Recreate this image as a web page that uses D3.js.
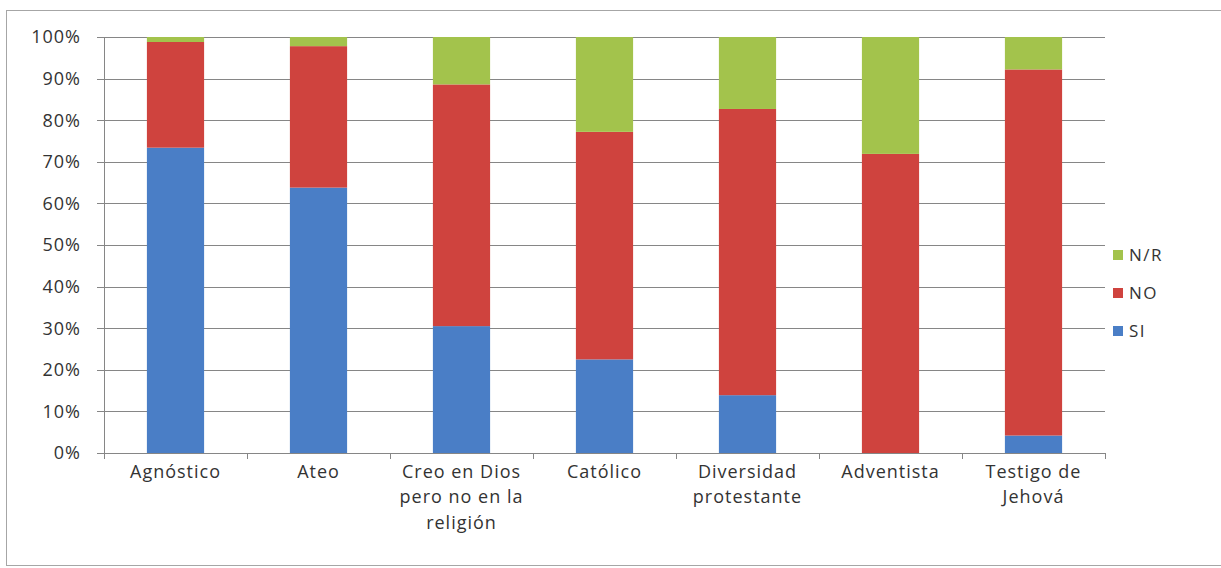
<!DOCTYPE html>
<html>
<head>
<meta charset="utf-8">
<script src="https://cdn.jsdelivr.net/npm/d3@7"></script>
<style>
  body { margin: 0; background: #fff; }
  svg text { font-family: "Open Sans", sans-serif; fill: #333; }
</style>
</head>
<body>
<svg id="chart"></svg>
<script>
// categories and values (percent)
const categories = [
  ["Agnóstico"],
  ["Ateo"],
  ["Creo en Dios", "pero no en la", "religión"],
  ["Católico"],
  ["Diversidad", "protestante"],
  ["Adventista"],
  ["Testigo de", "Jehová"]
];
const si = [73.4, 63.8, 30.5, 22.5, 13.9, 0, 4.2];
const no = [25.4, 34.0, 58.1, 54.7, 68.8, 71.9, 88.0];
const nr = [1.2, 2.2, 11.4, 22.8, 17.3, 28.1, 7.8];
const seriesNames = ["SI", "NO", "N/R"];
const yTicks = [0, 10, 20, 30, 40, 50, 60, 70, 80, 90, 100];

var svgWidth = 1221, svgHeight = 568;
var margin = {top: 37, right: 116, bottom: 115, left: 104};
var width = svgWidth - margin.left - margin.right;
var height = svgHeight - margin.top - margin.bottom;

var colors = {"SI": "#4a7ec6", "NO": "#cf433e", "N/R": "#a3c34c"};

var svg = d3.select("#chart")
  .attr("width", svgWidth)
  .attr("height", svgHeight);

// outer frame
svg.append("rect")
  .attr("x", 6.5).attr("y", 10.5)
  .attr("width", 1230).attr("height", 555)
  .attr("fill", "none")
  .attr("stroke", "#a6a6a6");

var g = svg.append("g")
  .attr("transform", "translate(" + margin.left + "," + margin.top + ")");

var keys = categories.map(function (c) { return c.join(" "); });
var data = keys.map(function (k, i) {
  return {key: k, "SI": si[i], "NO": no[i], "N/R": nr[i]};
});

var x = d3.scaleBand().domain(keys).range([0, width]).paddingInner(0.6).paddingOuter(0.3);
var y = d3.scaleLinear().domain([0, 100]).range([height, 0]);

// gridlines
g.append("g")
  .selectAll("line")
  .data(yTicks)
  .join("line")
  .attr("x1", -7).attr("x2", width)
  .attr("y1", function (d) { return Math.round(y(d)) + 0.5; })
  .attr("y2", function (d) { return Math.round(y(d)) + 0.5; })
  .attr("stroke", "#868686");

// y labels
g.append("g")
  .selectAll("text")
  .data(yTicks)
  .join("text")
  .attr("x", -23)
  .attr("y", function (d) { return y(d); })
  .attr("dy", "0.35em")
  .attr("text-anchor", "end")
  .style("font-size", "18px")
  .style("letter-spacing", "1px")
  .text(function (d) { return d + "%"; });

// stacked bars
var stack = d3.stack().keys(seriesNames);
var layers = stack(data);
g.append("g")
  .selectAll("g")
  .data(layers)
  .join("g")
  .attr("fill", function (d) { return colors[d.key]; })
  .selectAll("rect")
  .data(function (d) { return d; })
  .join("rect")
  .attr("x", function (d) { return x(d.data.key); })
  .attr("y", function (d) { return y(d[1]); })
  .attr("height", function (d) { return y(d[0]) - y(d[1]); })
  .attr("width", x.bandwidth());

// axes lines
g.append("line")
  .attr("x1", 0.5).attr("x2", 0.5)
  .attr("y1", 0).attr("y2", height)
  .attr("stroke", "#868686");

var step = width / keys.length;
g.append("g")
  .selectAll("line")
  .data(d3.range(keys.length + 1))
  .join("line")
  .attr("x1", function (i) { return Math.round(i * step) + 0.5; })
  .attr("x2", function (i) { return Math.round(i * step) + 0.5; })
  .attr("y1", height).attr("y2", height + 6)
  .attr("stroke", "#868686");

// x labels
var xl = g.append("g")
  .selectAll("text")
  .data(categories)
  .join("text")
  .attr("text-anchor", "middle")
  .style("font-size", "18px")
  .style("letter-spacing", "1px")
  .attr("transform", function (d, i) {
    return "translate(" + (x(keys[i]) + x.bandwidth() / 2) + "," + (height + 12) + ")";
  });
xl.selectAll("tspan")
  .data(function (d) { return d; })
  .join("tspan")
  .attr("x", 0)
  .attr("y", function (d, i) { return i * 25.5; })
  .attr("dy", "0.71em")
  .text(function (d) { return d; });

// legend
var legend = svg.append("g")
  .attr("transform", "translate(1113,0)");
var legendItems = ["N/R", "NO", "SI"];
var li = legend.selectAll("g")
  .data(legendItems)
  .join("g")
  .attr("transform", function (d, i) { return "translate(0," + (255 + i * 38) + ")"; });
li.append("rect")
  .attr("x", 0).attr("y", -5)
  .attr("width", 10).attr("height", 10)
  .attr("fill", function (d) { return colors[d]; });
li.append("text")
  .attr("x", 16)
  .attr("dy", "0.35em")
  .style("font-size", "17px")
  .style("letter-spacing", "1.5px")
  .text(function (d) { return d; });
</script>
</body>
</html>
